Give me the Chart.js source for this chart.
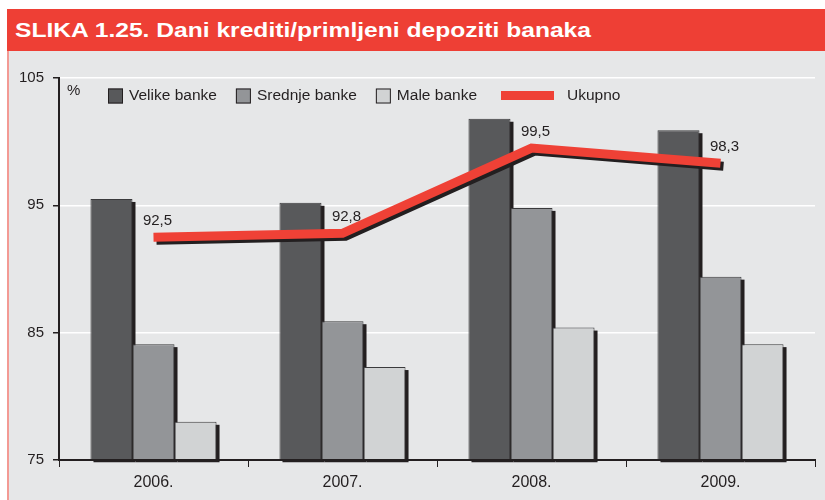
<!DOCTYPE html>
<html>
<head>
<meta charset="utf-8">
<script src="https://cdn.jsdelivr.net/npm/chart.js@4.4.1/dist/chart.umd.min.js"></script>
<style>
  body { margin: 0; background: #fff; }
  #wrap { position: relative; width: 825px; height: 500px; overflow: hidden; }
  #header {
    position: absolute; left: 7px; top: 9px; width: 818px; height: 42px;
    background: #ee3f35; color: #fff;
    font: bold 20px "Liberation Sans", Arial, sans-serif;
    line-height: 42px; padding-left: 8px; box-sizing: border-box; white-space: nowrap;
  }
  #header span { display: inline-block; transform: scaleX(1.23); transform-origin: left center; }
  #panel {
    position: absolute; left: 7px; top: 51px; width: 818px; height: 449px;
    background: #e6e7e8; border-left: 2px solid #f39a94; box-sizing: border-box;
  }
  canvas { position: absolute; left: 0; top: 0; }
</style>
</head>
<body>
<div id="wrap">
  <div id="header"><span>SLIKA 1.25. Dani krediti/primljeni depoziti banaka</span></div>
  <div id="panel"></div>
  <canvas id="chart" width="825" height="500"></canvas>
</div>
<script>
const categories = ["2006.", "2007.", "2008.", "2009."];
const velike = [95.5, 95.2, 101.8, 100.9];
const srednje = [84.1, 85.9, 94.8, 89.4];
const male = [78.0, 82.3, 85.4, 84.1];
const ukupno = [92.5, 92.8, 99.5, 98.3];
const yTicks = [75, 85, 95, 105];

const FONT = '"Liberation Sans", Arial, sans-serif';
const INK = "#231f20";
const RED = "#ef4136";
const SHADOW = 3;

// black drop shadow: bars get it painted before any dataset, the line gets a canvas shadow
const shadowPlugin = {
  id: "dropShadow",
  beforeDatasetsDraw(chart) {
    const ctx = chart.ctx;
    ctx.save();
    ctx.fillStyle = INK;
    chart.data.datasets.forEach((ds, i) => {
      if (ds.type !== "bar") return;
      chart.getDatasetMeta(i).data.forEach(bar => {
        const w = bar.width;
        ctx.fillRect(bar.x - w / 2 + SHADOW, bar.y + SHADOW, w, bar.base - bar.y);
      });
    });
    ctx.restore();
  },
  beforeDatasetDraw(chart, args) {
    const ctx = chart.ctx;
    ctx.save();
    if (chart.data.datasets[args.index].type === "line") {
      ctx.shadowColor = INK;
      ctx.shadowBlur = 0;
      ctx.shadowOffsetX = SHADOW;
      ctx.shadowOffsetY = SHADOW;
    }
  },
  afterDatasetDraw(chart) {
    chart.ctx.restore();
  }
};

// value labels above the line
const lineLabels = {
  id: "lineLabels",
  afterDatasetsDraw(chart) {
    const ctx = chart.ctx;
    chart.data.datasets.forEach((ds, i) => {
      if (ds.type !== "line") return;
      const meta = chart.getDatasetMeta(i);
      ctx.save();
      ctx.font = "15px " + FONT;
      ctx.fillStyle = INK;
      ctx.textAlign = "center";
      ctx.textBaseline = "bottom";
      meta.data.forEach((pt, j) => {
        ctx.fillText(ds.data[j].toFixed(1).replace(".", ","), pt.x + 4, pt.y - 9);
      });
      ctx.restore();
    });
  }
};

// legend drawn inside the plot, plus the "%" unit
const insideLegend = {
  id: "insideLegend",
  afterDraw(chart) {
    const ctx = chart.ctx;
    const area = chart.chartArea;
    ctx.save();
    ctx.font = "15px " + FONT;
    ctx.fillStyle = INK;
    ctx.textBaseline = "top";
    ctx.fillText("%", area.left + 8, area.top + 5);

    ctx.font = "15.5px " + FONT;
    ctx.textBaseline = "middle";
    let x = 108;
    const y = 96;
    chart.data.datasets.forEach(ds => {
      if (ds.type === "line") {
        x += 5;
        ctx.fillStyle = ds.borderColor;
        ctx.fillRect(x, y - 5, 53, 9);
        x += 53 + 13;
      } else {
        ctx.fillStyle = ds.backgroundColor;
        ctx.fillRect(x, y - 7.5, 15, 15);
        ctx.strokeStyle = INK;
        ctx.lineWidth = 1;
        ctx.strokeRect(x + 0.5, y - 7, 14, 14);
        x += 15 + 6;
      }
      ctx.fillStyle = INK;
      ctx.fillText(ds.label, x, y);
      x += ctx.measureText(ds.label).width + 19;
    });
    ctx.restore();
  }
};

const barStyle = {
  type: "bar",
  base: yTicks[0],
  borderColor: "#3a3a3c",
  borderWidth: 1,
  categoryPercentage: 0.667,
  barPercentage: 1,
  clip: false
};

new Chart(document.getElementById("chart"), {
  data: {
    labels: categories,
    datasets: [
      Object.assign({ label: "Velike banke", data: velike, backgroundColor: "#58595b" }, barStyle),
      Object.assign({ label: "Srednje banke", data: srednje, backgroundColor: "#939598" }, barStyle),
      Object.assign({ label: "Male banke", data: male, backgroundColor: "#d1d3d4" }, barStyle),
      {
        type: "line", label: "Ukupno", data: ukupno, order: -1,
        borderColor: RED, backgroundColor: RED, borderWidth: 9,
        borderCapStyle: "butt", borderJoinStyle: "miter",
        pointRadius: 0, tension: 0, clip: false
      }
    ]
  },
  options: {
    responsive: false,
    animation: false,
    layout: { padding: { left: 0, top: 78, right: 10, bottom: 0 } },
    plugins: { legend: { display: false }, tooltip: { enabled: false } },
    scales: {
      x: {
        afterFit(scale) { scale.height = 40; },
        grid: { offset: true, drawOnChartArea: false, color: INK, tickLength: 7, lineWidth: 1 },
        border: { color: INK, width: 2, z: 1 },
        ticks: { color: INK, font: { family: FONT, size: 16 }, padding: 6 }
      },
      y: {
        min: yTicks[0],
        max: yTicks[yTicks.length - 1],
        afterFit(scale) { scale.width = 59; },
        afterBuildTicks(scale) { scale.ticks = yTicks.map(v => ({ value: v })); },
        grid: { color: "#ffffff", lineWidth: 1.5, tickColor: INK, tickLength: 6 },
        border: { color: INK, width: 2 },
        ticks: { color: INK, font: { family: FONT, size: 15 }, padding: 9 }
      }
    }
  },
  plugins: [shadowPlugin, lineLabels, insideLegend]
});
</script>
</body>
</html>
